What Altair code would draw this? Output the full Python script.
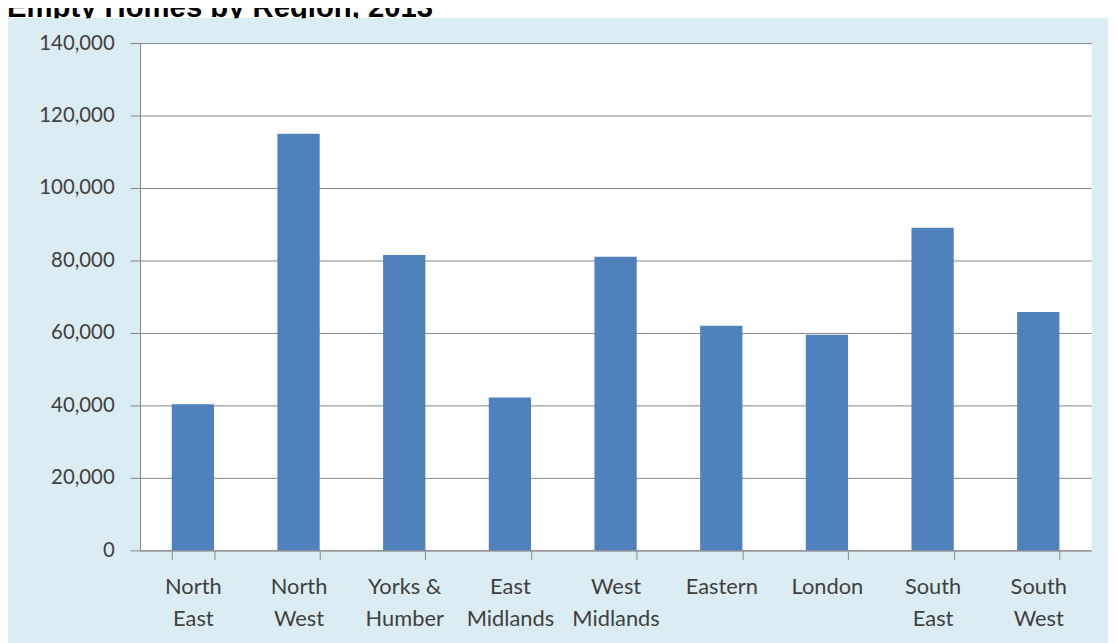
import altair as alt
import pandas as pd

regions = ["North\nEast", "North\nWest", "Yorks &\nHumber", "East\nMidlands", "West\nMidlands",
           "Eastern", "London", "South\nEast", "South\nWest"]
empty_homes = [40300, 115000, 81500, 42200, 81000, 62000, 59500, 89000, 65800]
y_ticks = [0, 20000, 40000, 60000, 80000, 100000, 120000, 140000]
title_text = "Empty Homes by Region, 2013"

df = pd.DataFrame({"region": regions, "homes": empty_homes})
one = pd.DataFrame({"k": [0]})

PANEL = "#dbedf2"
W, H = 958, 511

top_strip = alt.Chart(one).mark_rect(color="white").encode(
    x=alt.value(-140), x2=alt.value(W + 40), y=alt.value(-45), y2=alt.value(-25)
)
title = alt.Chart(one).mark_text(
    text=title_text, align="left", baseline="alphabetic", font="Liberation Sans",
    fontWeight="bold", fontSize=29.5, color="black"
).encode(x=alt.value(-134), y=alt.value(-26))
cover = alt.Chart(one).mark_rect(color=PANEL).encode(
    x=alt.value(-140), x2=alt.value(W + 40), y=alt.value(-25), y2=alt.value(-12)
)

bars = alt.Chart(df).mark_bar(color="#4f81bd").encode(
    x=alt.X("region:N", sort=None, title=None,
            scale=alt.Scale(paddingInner=0.6, paddingOuter=0.3),
            axis=alt.Axis(labelAngle=0, labelExpr="split(datum.label, '\\n')",
                          labelFont="Lato", labelFontSize=22, labelColor="#3f3f3f",
                          labelLineHeight=33, labelPadding=17,
                          tickBand="extent", tickSize=9, tickColor="#868686",
                          domainColor="#868686", grid=False)),
    y=alt.Y("homes:Q", title=None,
            scale=alt.Scale(domain=[0, 140000], nice=False),
            axis=alt.Axis(values=y_ticks, format=",.0f", labelFont="Lato", labelFontSize=20.5,
                          labelColor="#3f3f3f", labelPadding=16, tickSize=10,
                          tickColor="#868686", domainColor="#868686",
                          gridColor="#868686", grid=True)),
)

chart = alt.layer(top_strip, title, cover, bars).properties(
    width=W, height=H,
    autosize=alt.AutoSizeParams(type="none"),
    padding={"left": 133, "top": 33, "right": 17, "bottom": 91},
    background=PANEL,
).configure_view(fill="white", strokeOpacity=0)

chart.save("out.html", embed_options={"renderer": "svg", "actions": False})
